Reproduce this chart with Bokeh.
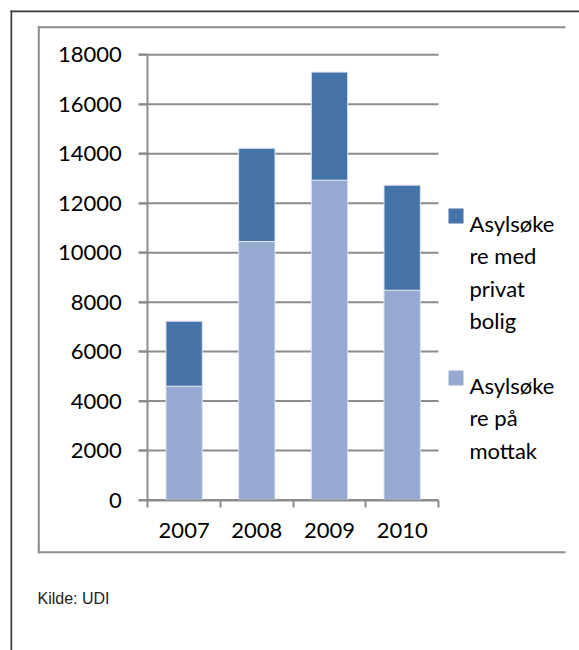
from bokeh.plotting import figure
from bokeh.models import FixedTicker, BoxAnnotation, Label, ColumnDataSource, Range1d
from bokeh.embed import file_html
from bokeh.resources import INLINE

# ---- data ----
years = ["2007", "2008", "2009", "2010"]
mottak = [4600, 10450, 12930, 8480]      # Asylsøkere på mottak
privat = [2630, 3770, 4370, 4250]        # Asylsøkere med privat bolig
legend_lines = [["Asylsøke", "re med", "privat", "bolig"], ["Asylsøke", "re på", "mottak"]]
y_ticks = list(range(0, 18001, 2000))
source_note = "Kilde: UDI"

DARK = "#4572A7"
LIGHT = "#96A9D0"
GRID = "#8c8c8c"
FRAME = "#3a3a3a"
FONT = "Lato"

W, H = 579, 650
# plot area placement on the canvas (pixels)
PX_LEFT, PX_RIGHT = 147.3, 438.0
PX_TOP, PX_BOTTOM = 54.3, 499.5
n = len(years)
y_max = y_ticks[-1]

ux = (PX_RIGHT - PX_LEFT) / n          # px per category unit
uy = (PX_BOTTOM - PX_TOP) / y_max      # px per value unit
x0 = 0.5 - PX_LEFT / ux
x1 = n + 0.5 + (W - PX_RIGHT) / ux
y0 = -(H - PX_BOTTOM) / uy
y1 = y_max + PX_TOP / uy

pos = [i + 1 for i in range(n)]
src = ColumnDataSource(dict(x=pos, mottak=mottak, privat=privat))

p = figure(width=W, height=H, output_backend="svg", toolbar_location=None,
           x_range=Range1d(x0, x1), y_range=Range1d(y0, y1), min_border=0)
p.outline_line_color = None
p.background_fill_color = "white"
p.border_fill_color = "white"
p.xgrid.grid_line_color = None
p.ygrid.grid_line_color = None

# horizontal gridlines only across the plot area
p.segment(x0=[0.5 - 9 / ux] * len(y_ticks), x1=[n + 0.5] * len(y_ticks),
          y0=y_ticks, y1=y_ticks, line_color=GRID, line_width=2)

p.vbar_stack(["mottak", "privat"], x="x", width=0.5, source=src,
             color=[LIGHT, DARK], line_color="#dde4f0", line_width=1)

# y axis
yax = p.yaxis[0]
yax.fixed_location = 0.5
yax.bounds = (0, y_max)
yax.ticker = FixedTicker(ticks=y_ticks)
yax.axis_line_color = GRID
yax.axis_line_width = 2
yax.major_tick_line_color = GRID
yax.major_tick_line_width = 2
yax.major_tick_in = 0
yax.major_tick_out = 9
yax.minor_tick_line_color = None
yax.major_label_standoff = 17
yax.major_label_text_font = FONT
yax.major_label_text_font_size = "22px"
yax.major_label_text_color = "black"

# x axis
xax = p.xaxis[0]
xax.fixed_location = 0
xax.bounds = (0.5, n + 0.5)
xax.ticker = FixedTicker(ticks=pos, minor_ticks=[i + 0.5 for i in range(n + 1)])
xax.major_label_overrides = {pv: y for pv, y in zip(pos, years)}
xax.axis_line_color = GRID
xax.axis_line_width = 2
xax.major_tick_line_color = None
xax.major_tick_in = 0
xax.major_tick_out = 0
xax.minor_tick_line_color = GRID
xax.minor_tick_line_width = 2
xax.minor_tick_in = 0
xax.minor_tick_out = 7
xax.major_label_standoff = 16
xax.major_label_text_font = FONT
xax.major_label_text_font_size = "22px"
xax.major_label_text_color = "black"


def rect(l, r, t, b, color):
    p.add_layout(BoxAnnotation(left=l, right=r, top=t, bottom=b,
                               left_units="canvas", right_units="canvas",
                               top_units="canvas", bottom_units="canvas",
                               fill_color=color, fill_alpha=1, line_color=None))

# outer frame (left and top edges)
rect(10, W, 10, 11.7, FRAME)
rect(10, 11.7, 10, H, FRAME)
# inner chart box (left, top, bottom edges)
rect(37.3, 565, 25.7, 27.7, GRID)
rect(37.3, 39.3, 25.7, 552.7, GRID)
rect(37.3, 565, 550.7, 552.7, GRID)

# legend
legend_colors = [DARK, LIGHT]
sq_top = [208, 370]
for lines, c, t in zip(legend_lines, legend_colors, sq_top):
    rect(448, 463, t, t + 15, c)
    for k, txt in enumerate(lines):
        p.add_layout(Label(x=469, y=t + 15 + 32.3 * k, x_units="canvas", y_units="canvas",
                           text=txt, text_font=FONT, text_font_size="22px",
                           text_color="black", text_baseline="alphabetic", text_align="left"))

p.add_layout(Label(x=37, y=598, x_units="canvas", y_units="canvas", text=source_note,
                   text_font="Liberation Sans", text_font_size="16px",
                   text_color="#222222", text_baseline="alphabetic"))

open("out.html", "w").write(file_html(p, INLINE))
